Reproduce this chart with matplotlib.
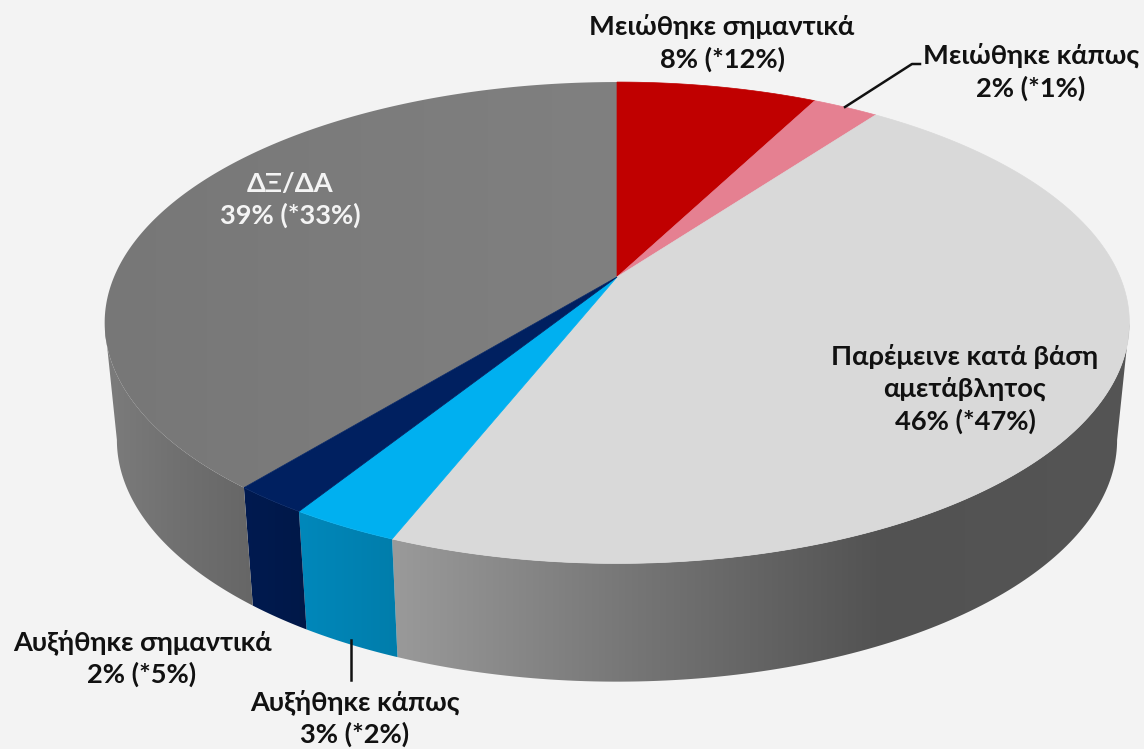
import numpy as np
from matplotlib import pyplot as plt
from matplotlib.colors import LinearSegmentedColormap
from matplotlib.patches import Polygon

categories = ["Μειώθηκε σημαντικά", "Μειώθηκε κάπως", "Παρέμεινε κατά βάση\nαμετάβλητος",
              "Αυξήθηκε κάπως", "Αυξήθηκε σημαντικά", "ΔΞ/ΔΑ"]
value_labels = ["8% (*12%)", "2% (*1%)", "46% (*47%)", "3% (*2%)", "2% (*5%)", "39% (*33%)"]
values = [7.6, 2.5, 45.9, 2.9, 2.0, 39.1]

top_colors = ["#c00000", "#e58091", "#d9d9d9", "#00b0f0", "#002060", None]
side_colors = [["#900000", "#900000"], ["#ac6070", "#ac6070"],
               ["#9a9a9a", "#757575", "#525252", "#555555"],
               ["#0088bb", "#007dab"], ["#001a50", "#001848"],
               ["#7c7c7c", "#707070", "#666666"]]

label_pos = [(722, 43), (1031, 72), (965, 389), (355, 718), (142, 658), (290, 200)]
label_color = ["#111111", "#111111", "#111111", "#111111", "#111111", "#f4f4f4"]

plt.rcParams['font.family'] = ['Lato', 'Open Sans', 'DejaVu Sans']

K = 0.19

fig = plt.figure(figsize=(11.44, 7.49), dpi=100, facecolor="#f3f3f3")
ax = fig.add_axes([0, 0, 1, 1])
ax.set_axis_off()


# circle in its own plane -> picture pixels, far side squeezed by perspective
def project(t, a, b, cy):
    u = np.sin(t)
    v = np.cos(t)
    w = 1 + K * v
    return 617 + a * u / w, cy - b * v / w


def top_xy(t):
    return project(t, 503, 232, 277)


def bottom_xy(t):
    return project(t, 491, 233, 394)


def gradient_fill(poly_xy, colors, x0, x1):
    cmap = LinearSegmentedColormap.from_list("g", colors)
    grad = np.linspace(0, 1, 256).reshape(1, -1)
    im = ax.imshow(grad, cmap=cmap, extent=(x0, x1, 749, 0), aspect="auto", zorder=2)
    clip = Polygon(poly_xy, closed=True, transform=ax.transData, fc="none", ec="none")
    ax.add_patch(clip)
    im.set_clip_path(clip)


edges = np.radians(np.concatenate([[0], np.cumsum(values)]) / sum(values) * 360)
fold = np.arccos(-K)

# outer wall, only the part facing the viewer
for i in range(len(values)):
    t0 = max(edges[i], fold)
    t1 = min(edges[i + 1], 2 * np.pi - fold)
    if t1 <= t0:
        continue
    t = np.linspace(t0, t1, 120)
    xt, yt = top_xy(t)
    xb, yb = bottom_xy(t)
    poly = np.column_stack([np.r_[xt, xb[::-1]], np.r_[yt, yb[::-1]]])
    gradient_fill(poly, side_colors[i], poly[:, 0].min(), poly[:, 0].max())

for i in range(len(values)):
    t = np.linspace(edges[i], edges[i + 1], 200)
    xt, yt = top_xy(t)
    px = np.r_[617, xt]
    py = np.r_[277, yt]
    if top_colors[i] is None:
        gradient_fill(np.column_stack([px, py]), ["#777777", "#7c7c7c", "#808080"], 104, 617)
        continue
    ax.fill(px, py, color=top_colors[i], lw=0.5, zorder=3)

# leader lines
ax.plot([845, 912, 920], [107, 64, 64], color="#111111", lw=1.8, zorder=4)
ax.plot([351, 351], [640, 680], color="#111111", lw=1.8, zorder=4)

for i in range(len(categories)):
    ax.text(label_pos[i][0], label_pos[i][1], categories[i] + "\n" + value_labels[i],
            ha="center", va="center", ma="center", fontsize=19.6, fontweight="bold",
            color=label_color[i], linespacing=1.35, zorder=5)

ax.set_xlim(0, 1144)
ax.set_ylim(749, 0)
plt.savefig('out.png', dpi=100, facecolor=fig.get_facecolor())
